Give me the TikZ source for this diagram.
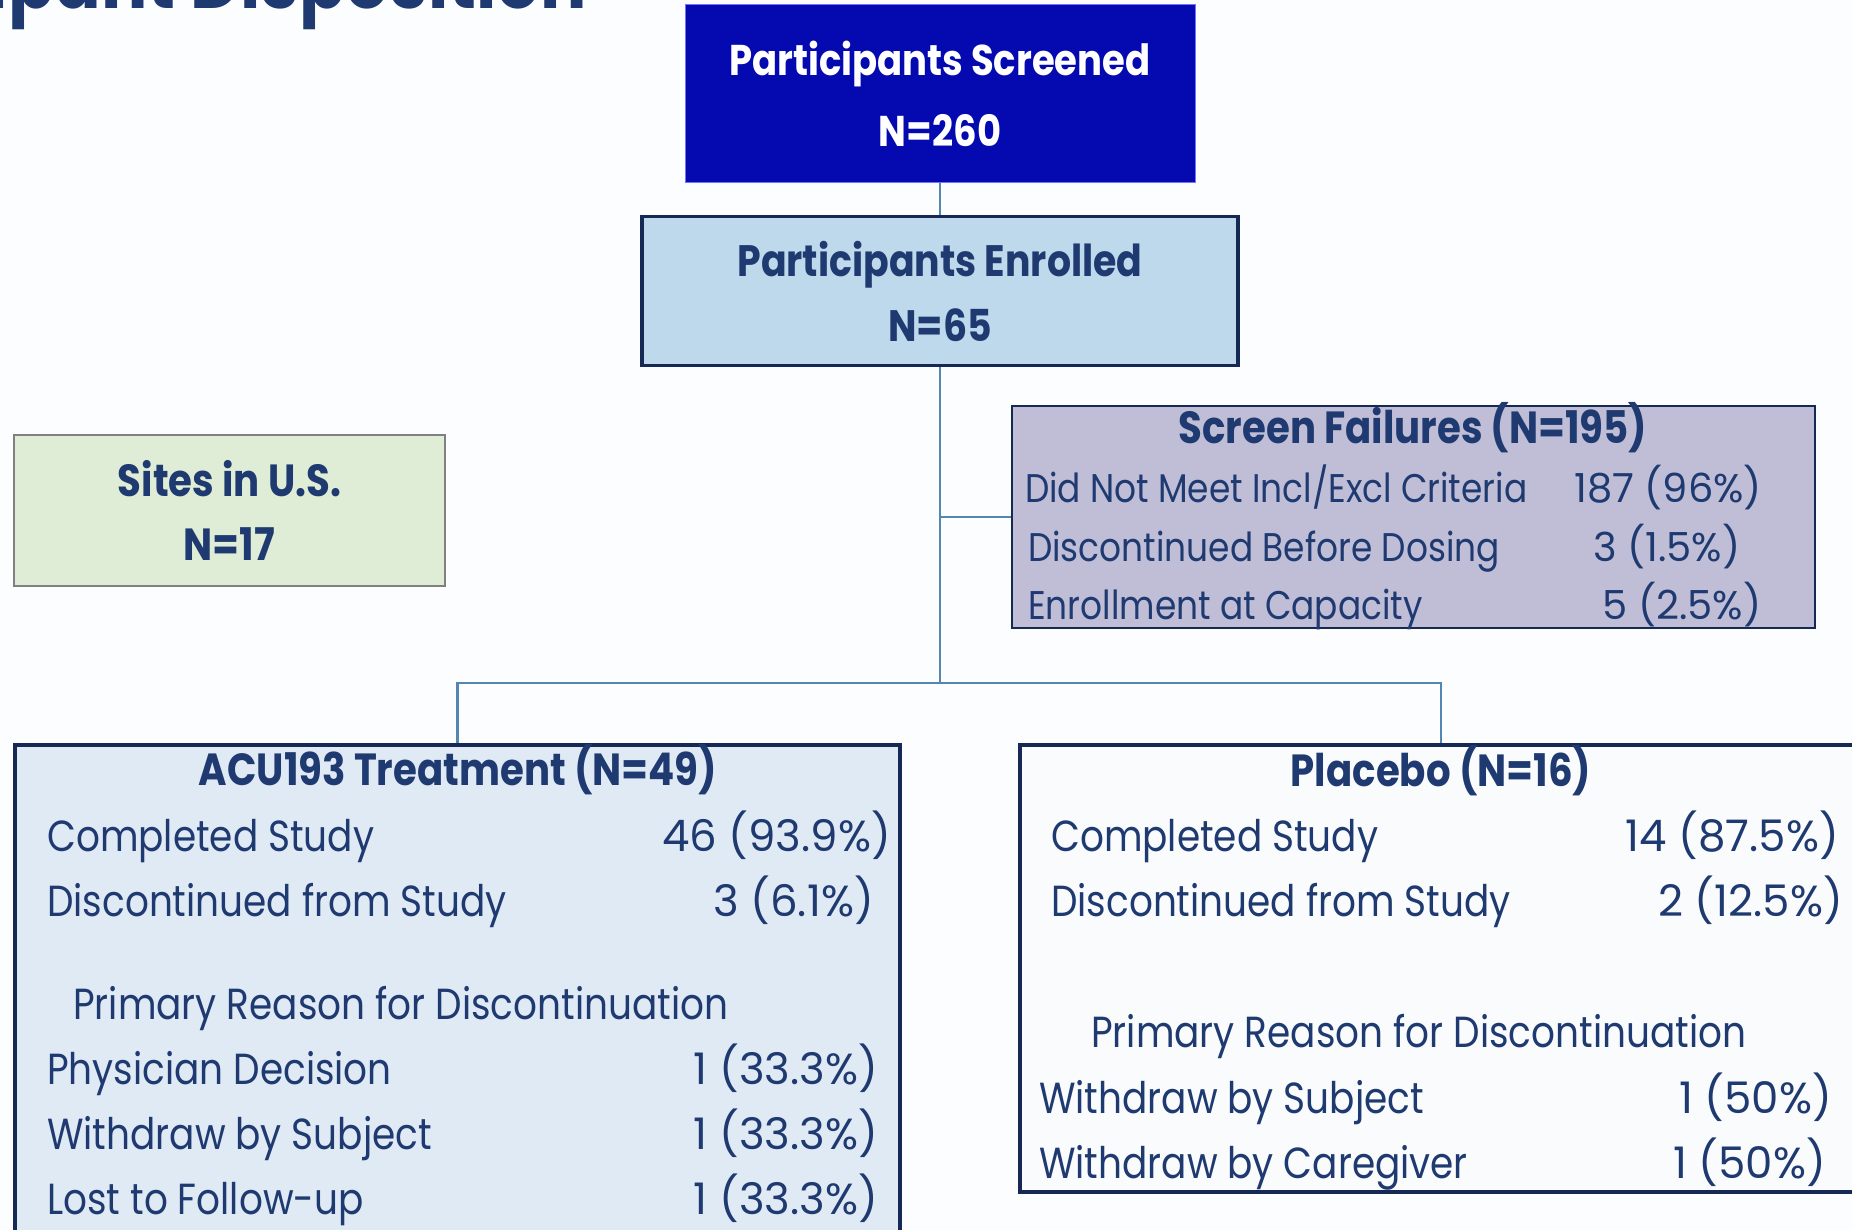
\documentclass[tikz,border=0pt]{standalone}
\usepackage{fontspec}
\setmainfont[FakeStretch=0.86]{Poppins}
\newfontfamily\numfont{Poppins}
\usepackage{tikz}
\usetikzlibrary{positioning}
\definecolor{navy}{RGB}{31,58,112}
\definecolor{deepblue}{RGB}{5,10,176}
\definecolor{frameblue}{RGB}{22,40,84}
\definecolor{linkblue}{RGB}{84,134,180}
\definecolor{paleblue}{RGB}{190,216,236}
\definecolor{palegreen}{RGB}{223,237,214}
\definecolor{lavender}{RGB}{192,190,214}
\definecolor{armblue}{RGB}{224,234,245}
\definecolor{armwhite}{RGB}{249,251,253}
\definecolor{page}{RGB}{252,253,254}
\tikzset{
  box/.style={draw=frameblue, line width=3.5pt, inner sep=0pt},
  link/.style={draw=linkblue, line width=2.2pt},
  head/.style={text=navy, font=\fontsize{45}{71}\selectfont\bfseries, align=center},
  row/.style={text=navy, anchor=base west, inner sep=0pt, font=\fontsize{43.5}{48}\selectfont},
  num/.style={text=navy, anchor=base east, inner sep=0pt, font=\fontsize{43.5}{48}\selectfont\numfont},
  failrow/.style={row, font=\fontsize{40}{44}\selectfont},
  failnum/.style={row, font=\fontsize{40}{44}\selectfont\numfont},
}

\begin{document}
\begin{tikzpicture}[x=1pt, y=-1pt]
  \path[use as bounding box, clip] (0,0) rectangle (1852,1230);
  \fill[page] (0,0) rectangle (1852,1230);
  \node[anchor=base east, text=navy, inner sep=0pt, font=\fontsize{80}{84}\selectfont\bfseries] (title) at (587,9) {Participant Disposition};

  % top of the flow
  \node[box, draw=blue!55!white, line width=1pt, fill=deepblue, minimum width=510pt, minimum height=178pt, head, text=white, font=\fontsize{43}{71}\selectfont\bfseries] (screened) at (940,94) {Participants Screened\\N=260};
  \node[box, fill=paleblue, minimum width=596pt, minimum height=149pt, head, font=\fontsize{44}{65}\selectfont\bfseries] (enrolled) at (940,291) {Participants Enrolled\\N=65};
  \node[box, draw=gray, line width=1.5pt, fill=palegreen, minimum width=431pt, minimum height=151pt, head, font=\fontsize{45}{64}\selectfont\bfseries] (sites) at (229.5,510.5) {Sites in U.S.\\N=17};

  % screen failures
  \node[box, line width=2.5pt, fill=lavender, minimum width=803pt, minimum height=222pt] (failures) at (1413.5,517) {};
  \node[head] (failhead) at (1413,428) {Screen Failures (N=195)};
  \node[failrow] (fail1) at (1025,502) {Did Not Meet Incl/Excl Criteria};
  \node[failnum] (fail1n) at (1574,502) {187 (96\%)};
  \node[failrow] (fail2) at (1028,561) {Discontinued Before Dosing};
  \node[failnum] (fail2n) at (1593,561) {3 (1.5\%)};
  \node[failrow] (fail3) at (1028,619) {Enrollment at Capacity};
  \node[failnum] (fail3n) at (1602,619) {5 (2.5\%)};

  % treatment arm
  \node[box, fill=armblue, minimum width=885pt, minimum height=520pt] (acu) at (457.5,1005) {};
  \node[head] (acuhead) at (458,770) {ACU193 Treatment (N=49)};
  \node[row] (acu1) at (47,851) {Completed Study};
  \node[num] (acu1n) at (891,851) {46 (93.9\%)};
  \node[row] (acu2) at (47,916) {Discontinued from Study};
  \node[num] (acu2n) at (874,916) {3 (6.1\%)};
  \node[row] (acu3) at (73,1019) {Primary Reason for Discontinuation};
  \node[row] (acu4) at (47,1084) {Physician Decision};
  \node[num] (acu4n) at (878,1084) {1 (33.3\%)};
  \node[row] (acu5) at (47,1149) {Withdraw by Subject};
  \node[num] (acu5n) at (878,1149) {1 (33.3\%)};
  \node[row] (acu6) at (47,1214) {Lost to Follow-up};
  \node[num] (acu6n) at (878,1214) {1 (33.3\%)};

  % placebo arm
  \node[box, fill=armwhite, minimum width=842pt, minimum height=447pt] (placebo) at (1441,968.5) {};
  \node[head] (plahead) at (1441,771) {Placebo (N=16)};
  \node[row] (pla1) at (1051,851) {Completed Study};
  \node[num] (pla1n) at (1839,851) {14 (87.5\%)};
  \node[row] (pla2) at (1051,916) {Discontinued from Study};
  \node[num] (pla2n) at (1843,916) {2 (12.5\%)};
  \node[row] (pla3) at (1091,1047) {Primary Reason for Discontinuation};
  \node[row] (pla4) at (1039,1113) {Withdraw by Subject};
  \node[num] (pla4n) at (1832,1113) {1 (50\%)};
  \node[row] (pla5) at (1039,1178) {Withdraw by Caregiver};
  \node[num] (pla5n) at (1826,1178) {1 (50\%)};

  % connectors
  \coordinate (split) at (940,683);
  \draw[link] (screened) -- (enrolled);
  \draw[link] (enrolled) -- (split);
  \draw[link] (enrolled.south |- failures.west) -- (failures.west);
  \draw[link] (acu.north) |- (split) -| (placebo.north);
\end{tikzpicture}
\end{document}
